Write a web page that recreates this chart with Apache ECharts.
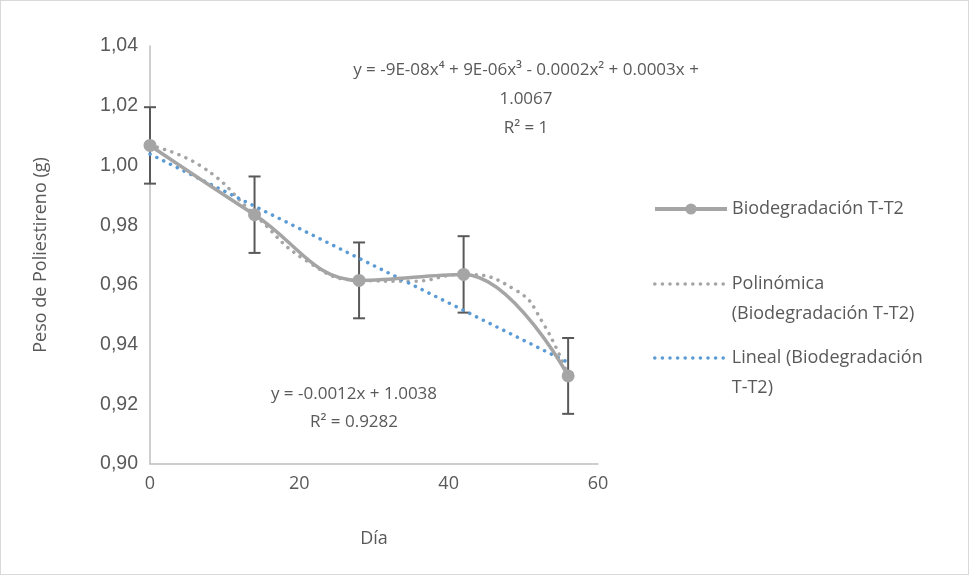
<!DOCTYPE html>
<html>
<head>
<meta charset="utf-8">
<script src="https://cdn.jsdelivr.net/npm/echarts@6/dist/echarts.min.js"></script>
<style>
  html, body { margin: 0; padding: 0; background: #fff; }
  #main { width: 967px; height: 573px; border: 1px solid #d9d9d9; }
</style>
</head>
<body>
<div id="main"></div>
<script>
// measured data (Día / peso en g)
var dias = [0, 14, 28, 42, 56];
var peso = [1.0067, 0.9835, 0.9615, 0.9635, 0.9295];
var errores = [0.0128, 0.0128, 0.0127, 0.0128, 0.0127];

// trend lines
var polyX = [0, 7, 14, 21, 28, 35, 42, 49, 52.5, 56];
var polyY = [1.0067, 0.9995, 0.9835, 0.9680, 0.9615, 0.9612, 0.9635, 0.9582, 0.9478, 0.9295];
var linX = [0, 56];
var linY = [1.0038, 0.9340];

var yTicks = { min: 0.90, max: 1.04, step: 0.02 };
var xTicks = { min: 0, max: 60, step: 20 };

var serieNombre = 'Biodegradación T-T2';
var polyNombre = 'Polinómica (Biodegradación T-T2)';
var linNombre = 'Lineal (Biodegradación T-T2)';

var gris = '#A5A5A5';
var azul = '#5B9BD5';
var texto = '#595959';
var punteado = [0.1, 7.5];

function pares(xs, ys) {
  return xs.map(function (x, i) { return [x, ys[i]]; });
}

var errData = dias.map(function (d, i) { return [d, peso[i], errores[i]]; });

var leyendaBase = {
  orient: 'vertical',
  left: 652,
  padding: 0,
  itemWidth: 72,
  itemHeight: 14,
  textStyle: { color: texto, fontSize: 18, fontFamily: 'Open Sans', lineHeight: 30 },
  formatter: function (n) {
    // leading blank line keeps the icon level with the first text line
    if (n === polyNombre) return '\nPolinómica\n(Biodegradación T-T2)';
    if (n === linNombre) return '\nLineal (Biodegradación\nT-T2)';
    return n;
  }
};

function leyenda(top, item) {
  return Object.assign({}, leyendaBase, { top: top, data: [item] });
}

var chart = echarts.init(document.getElementById('main'));

chart.setOption({
  animation: false,
  grid: { left: 149, right: 370, top: 45, bottom: 110 },
  xAxis: {
    type: 'value',
    min: xTicks.min, max: xTicks.max, interval: xTicks.step,
    name: 'Día', nameLocation: 'middle', nameGap: 66,
    nameTextStyle: { color: texto, fontSize: 18, fontFamily: 'Open Sans' },
    axisLine: { lineStyle: { color: '#BFBFBF', width: 1.5 } },
    axisTick: { show: false },
    splitLine: { show: false },
    axisLabel: { color: texto, fontSize: 18, fontFamily: 'Open Sans', margin: 11 }
  },
  yAxis: {
    type: 'value',
    min: yTicks.min, max: yTicks.max, interval: yTicks.step,
    name: 'Peso de Poliestireno (g)', nameLocation: 'middle', nameGap: 100,
    nameTextStyle: { color: texto, fontSize: 18, fontFamily: 'Open Sans' },
    axisLine: { show: true, lineStyle: { color: '#BFBFBF', width: 1.5 } },
    axisTick: { show: false },
    splitLine: { show: false },
    axisLabel: {
      color: texto, fontSize: 19.5, fontFamily: 'Liberation Sans', margin: 12,
      formatter: function (v) { return v.toFixed(2).replace('.', ','); }
    }
  },
  legend: [
    leyenda(193, { name: serieNombre, lineStyle: { width: 4 } }),
    leyenda(238, { name: polyNombre, itemStyle: { color: 'rgba(0,0,0,0)', borderWidth: 0 },
      lineStyle: { width: 3.5, type: punteado, cap: 'round' } }),
    leyenda(312, { name: linNombre, itemStyle: { color: 'rgba(0,0,0,0)', borderWidth: 0 },
      lineStyle: { width: 3.5, type: punteado, cap: 'round' } })
  ],
  graphic: [
    { type: 'text', style: {
        text: 'y = -9E-08x⁴ + 9E-06x³ - 0.0002x² + 0.0003x +\n1.0067\nR² = 1',
        x: 525, y: 55, align: 'center', fill: texto, fontSize: 17, lineHeight: 29,
        fontFamily: 'Open Sans' } },
    { type: 'text', style: {
        text: 'y = -0.0012x + 1.0038\nR² = 0.9282',
        x: 353, y: 379, align: 'center', fill: texto, fontSize: 17, lineHeight: 28,
        fontFamily: 'Open Sans' } }
  ],
  series: [
    {
      type: 'custom',
      name: 'error',
      z: 1,
      silent: true,
      data: errData,
      renderItem: function (params, api) {
        var x = api.value(0), y = api.value(1), e = api.value(2);
        var top = api.coord([x, y + e]);
        var bot = api.coord([x, y - e]);
        var w = 6;
        var st = { stroke: texto, lineWidth: 2 };
        return {
          type: 'group',
          children: [
            { type: 'line', shape: { x1: top[0], y1: top[1], x2: bot[0], y2: bot[1] }, style: st },
            { type: 'line', shape: { x1: top[0] - w, y1: top[1], x2: top[0] + w, y2: top[1] }, style: st },
            { type: 'line', shape: { x1: bot[0] - w, y1: bot[1], x2: bot[0] + w, y2: bot[1] }, style: st }
          ]
        };
      }
    },
    {
      name: polyNombre,
      type: 'line',
      z: 2,
      smooth: 0.5,
      showSymbol: false,
      symbol: 'none',
      data: pares(polyX, polyY),
      lineStyle: { color: gris, width: 3.5, type: punteado, cap: 'round' },
      itemStyle: { color: gris }
    },
    {
      name: linNombre,
      type: 'line',
      z: 2,
      showSymbol: false,
      symbol: 'none',
      data: pares(linX, linY),
      lineStyle: { color: azul, width: 3.5, type: punteado, cap: 'round' },
      itemStyle: { color: azul }
    },
    {
      name: serieNombre,
      type: 'line',
      z: 3,
      smooth: 0.4,
      symbol: 'circle',
      symbolSize: 13,
      data: pares(dias, peso),
      lineStyle: { color: gris, width: 3.5 },
      itemStyle: { color: gris }
    }
  ]
});
</script>
</body>
</html>
